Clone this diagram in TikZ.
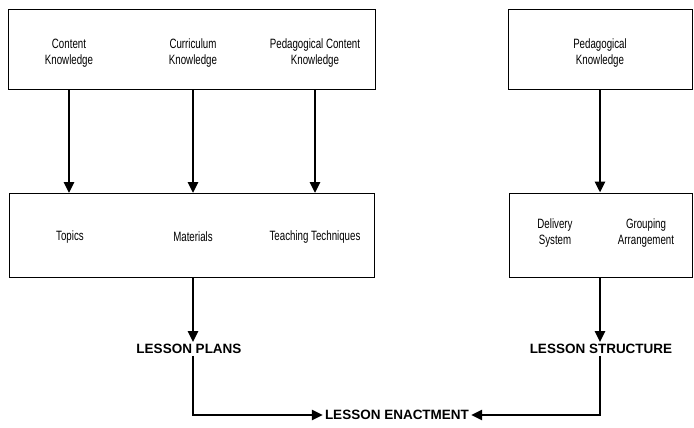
\documentclass[tikz,border=0pt]{standalone}
\usepackage{fontspec}
\setmainfont{Liberation Sans}
\newfontfamily\narrowfont[FakeStretch=0.72]{Liberation Sans}
\usetikzlibrary{arrows.meta, positioning}

\begin{document}
\begin{tikzpicture}[x=1pt, y=-1pt,
    box/.style={rectangle, draw=black, line width=1pt, fill=white},
    label/.style={align=center, inner sep=1pt,
                  font=\narrowfont\fontsize{13.5}{16.5}\selectfont},
    stage/.style={inner sep=2pt, font=\bfseries\fontsize{13.5}{16}\selectfont},
    flow/.style={-{Triangle[length=11pt, width=10pt]}, line width=2.6pt},
  ]
    \useasboundingbox (0,0) rectangle (694,428);

    % top boxes
    \node[box, minimum width=367pt, minimum height=80pt] (ktop) at (191.5,50) {};
    \node[box, minimum width=184pt, minimum height=80pt] (ptop) at (600,50) {};
    \node[label] (content) at (69,53) {Content\\Knowledge};
    \node[label] (curric) at (193,53) {Curriculum\\Knowledge};
    \node[label] (pck) at (315,53) {Pedagogical Content\\Knowledge};
    \node[label] (pk) at (600,53) {Pedagogical\\Knowledge};

    % middle boxes
    \node[box, minimum width=365pt, minimum height=84pt] (tbox) at (191.5,235.5) {};
    \node[box, minimum width=183pt, minimum height=84pt] (dbox) at (600.5,235) {};
    \node[label] (topics) at (70,237) {Topics};
    \node[label] (materials) at (193,237) {Materials};
    \node[label] (techniques) at (315,237) {Teaching Techniques};
    \node[label] (delivery) at (555,233) {Delivery\\System};
    \node[label] (grouping) at (646,233) {Grouping\\Arrangement};

    % lesson stages
    \node[stage] (plans) at (189,349) {LESSON PLANS};
    \node[stage] (structure) at (601,349) {LESSON STRUCTURE};
    \node[stage] (enact) at (397,415) {LESSON ENACTMENT};

    % Arrows
    \draw[flow] (ktop.south -| content) -- (tbox.north -| content);
    \draw[flow] (ktop.south -| curric) -- (tbox.north -| curric);
    \draw[flow] (ktop.south -| pck) -- (tbox.north -| pck);
    \draw[flow] (ptop.south) -- (dbox.north -| ptop);
    \draw[flow] (tbox.south -| materials) -- (plans.north -| materials);
    \draw[flow] (dbox.south -| ptop) -- (structure.north -| ptop);
    \draw[flow] (plans.south -| materials) |- (enact.west);
    \draw[flow] (structure.south -| ptop) |- (enact.east);
  \end{tikzpicture}
\end{document}
